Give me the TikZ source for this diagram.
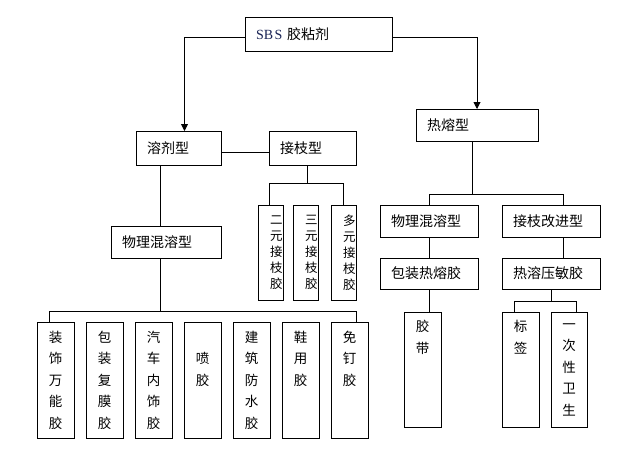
\documentclass[tikz,border=0pt]{standalone}
\usepackage{fontspec}
\setmainfont{Noto Sans CJK SC}
\newfontfamily\latf{Liberation Serif}
\usetikzlibrary{arrows.meta}
\definecolor{sbsblue}{RGB}{25,35,85}
\begin{document}
\begin{tikzpicture}[x=1pt,y=-1pt,
  hbox/.style={draw=black, line width=0.9pt, anchor=north west, inner xsep=11pt, inner ysep=0pt, outer sep=0pt, align=left, font=\fontsize{14}{16}\selectfont},
  vbox/.style={draw=black, line width=0.9pt, anchor=north west, inner xsep=0pt, inner ysep=0pt, outer sep=0pt, align=center, text width=37pt, minimum width=37pt, font=\fontsize{13.5}{21.5}\selectfont},
  sbox/.style={draw=black, line width=0.9pt, anchor=north west, inner xsep=0.5pt, inner ysep=0pt, outer sep=0pt, align=right, text width=24pt, minimum width=25pt, minimum height=95pt, font=\fontsize{12.5}{16}\selectfont},
  conn/.style={draw=black, line width=0.9pt},
  arr/.style={conn, -{Triangle[width=7pt,length=7pt]}}
]
\useasboundingbox (0,0) rectangle (644,475);

% top level
\node[hbox, text width=125pt, minimum height=34pt] (sbs) at (245,17) {{\latf\color{sbsblue}SB\kern1.5pt S} 胶粘剂};
\node[hbox, text width=63pt, minimum height=34pt] (rj) at (136,131) {溶剂型};
\node[hbox, text width=65pt, minimum height=34pt] (jz) at (269,131) {接枝型};
\node[hbox, text width=100pt, minimum height=32pt] (rr) at (416,109) {热熔型};

% left branch
\node[hbox, text width=88pt, minimum height=32pt] (wl1) at (111,226) {物理混溶型};
\node[sbox] (ey) at (258,205) {二\\元\\接\\枝\\胶};
\node[sbox] (sy) at (293,205) {三\\元\\接\\枝\\胶};
\node[sbox] (dy) at (331,205) {多\\元\\接\\枝\\胶};

\node[vbox, minimum height=116pt] (b1) at (37,322) {装\\饰\\万\\能\\胶};
\node[vbox, minimum height=116pt] (b2) at (86,322) {包\\装\\复\\膜\\胶};
\node[vbox, minimum height=116pt] (b3) at (135,322) {汽\\车\\内\\饰\\胶};
\node[vbox, minimum height=116pt] (b4) at (184,322) {\phantom{胶}\\喷\\胶\\\phantom{胶}\\\phantom{胶}};
\node[vbox, minimum height=116pt] (b5) at (233,322) {建\\筑\\防\\水\\胶};
\node[vbox, minimum height=116pt] (b6) at (282,322) {鞋\\用\\胶\\\phantom{胶}\\\phantom{胶}};
\node[vbox, minimum height=116pt] (b7) at (331,322) {免\\钉\\胶\\\phantom{胶}\\\phantom{胶}};

% right branch
\node[hbox, text width=76pt, minimum height=32pt] (wl2) at (380,205) {物理混溶型};
\node[hbox, text width=76pt, minimum height=32pt] (jg) at (502,205) {接枝改进型};
\node[hbox, text width=76pt, minimum height=31pt] (bz) at (380,258) {包装热熔胶};
\node[hbox, text width=76pt, minimum height=31pt] (rm) at (502,258) {热溶压敏胶};

\node[vbox, minimum height=115pt] (jd) at (404,312) {胶\\带\\\phantom{胶}\\\phantom{胶}\\\phantom{胶}};
\node[vbox, minimum height=115pt] (bq) at (502,312) {标\\签\\\phantom{胶}\\\phantom{胶}\\\phantom{胶}};
\node[vbox, minimum height=115pt, text width=36pt, minimum width=36pt] (yc) at (551,312) {一\\次\\性\\卫\\生};

% coordinates of junctions
\coordinate (bus1) at (160,311);
\coordinate (bus2) at (307,183);
\coordinate (bus3) at (472,194);
\coordinate (bus4) at (551,301);

% connectors
\draw[arr] ([yshift=-3pt]sbs.west) -| ([xshift=6pt]rj.north);
\draw[arr] ([yshift=-3pt]sbs.east) -| (rr.north);
\draw[conn] ([yshift=-4pt]rj.east) -- ([yshift=-4pt]jz.west);
\draw[conn] ([xshift=-18.5pt]rj.south) -- ([xshift=-6pt]wl1.north);
\draw[conn] ([xshift=-6pt]wl1.south) -- (bus1);
\draw[conn] ([xshift=-6.5pt]b1.north) |- ([xshift=6.5pt]b7.north |- bus1) -- ([xshift=6.5pt]b7.north);

\draw[conn] ([xshift=-5.5pt]jz.south) -- (bus2);
\draw[conn] ([xshift=-1.5pt]ey.north) |- ([xshift=-0.5pt]dy.north |- bus2) -- ([xshift=-0.5pt]dy.north);

\draw[conn] ([xshift=-5pt]rr.south) -- (bus3);
\draw[conn] (wl2.north) |- ([xshift=12pt]jg.north |- bus3) -- ([xshift=12pt]jg.north);
\draw[conn] ([xshift=12pt]jg.south) -- ([xshift=12pt]rm.north);
\draw[conn] (wl2.south) -- (bz.north);
\draw[conn] (bz.south) -- ([xshift=6.5pt]jd.north);
\draw[conn] (rm.south) -- (bus4);
\draw[conn] ([xshift=-6.5pt]bq.north) |- ([xshift=7pt]yc.north |- bus4) -- ([xshift=7pt]yc.north);
\end{tikzpicture}
\end{document}
